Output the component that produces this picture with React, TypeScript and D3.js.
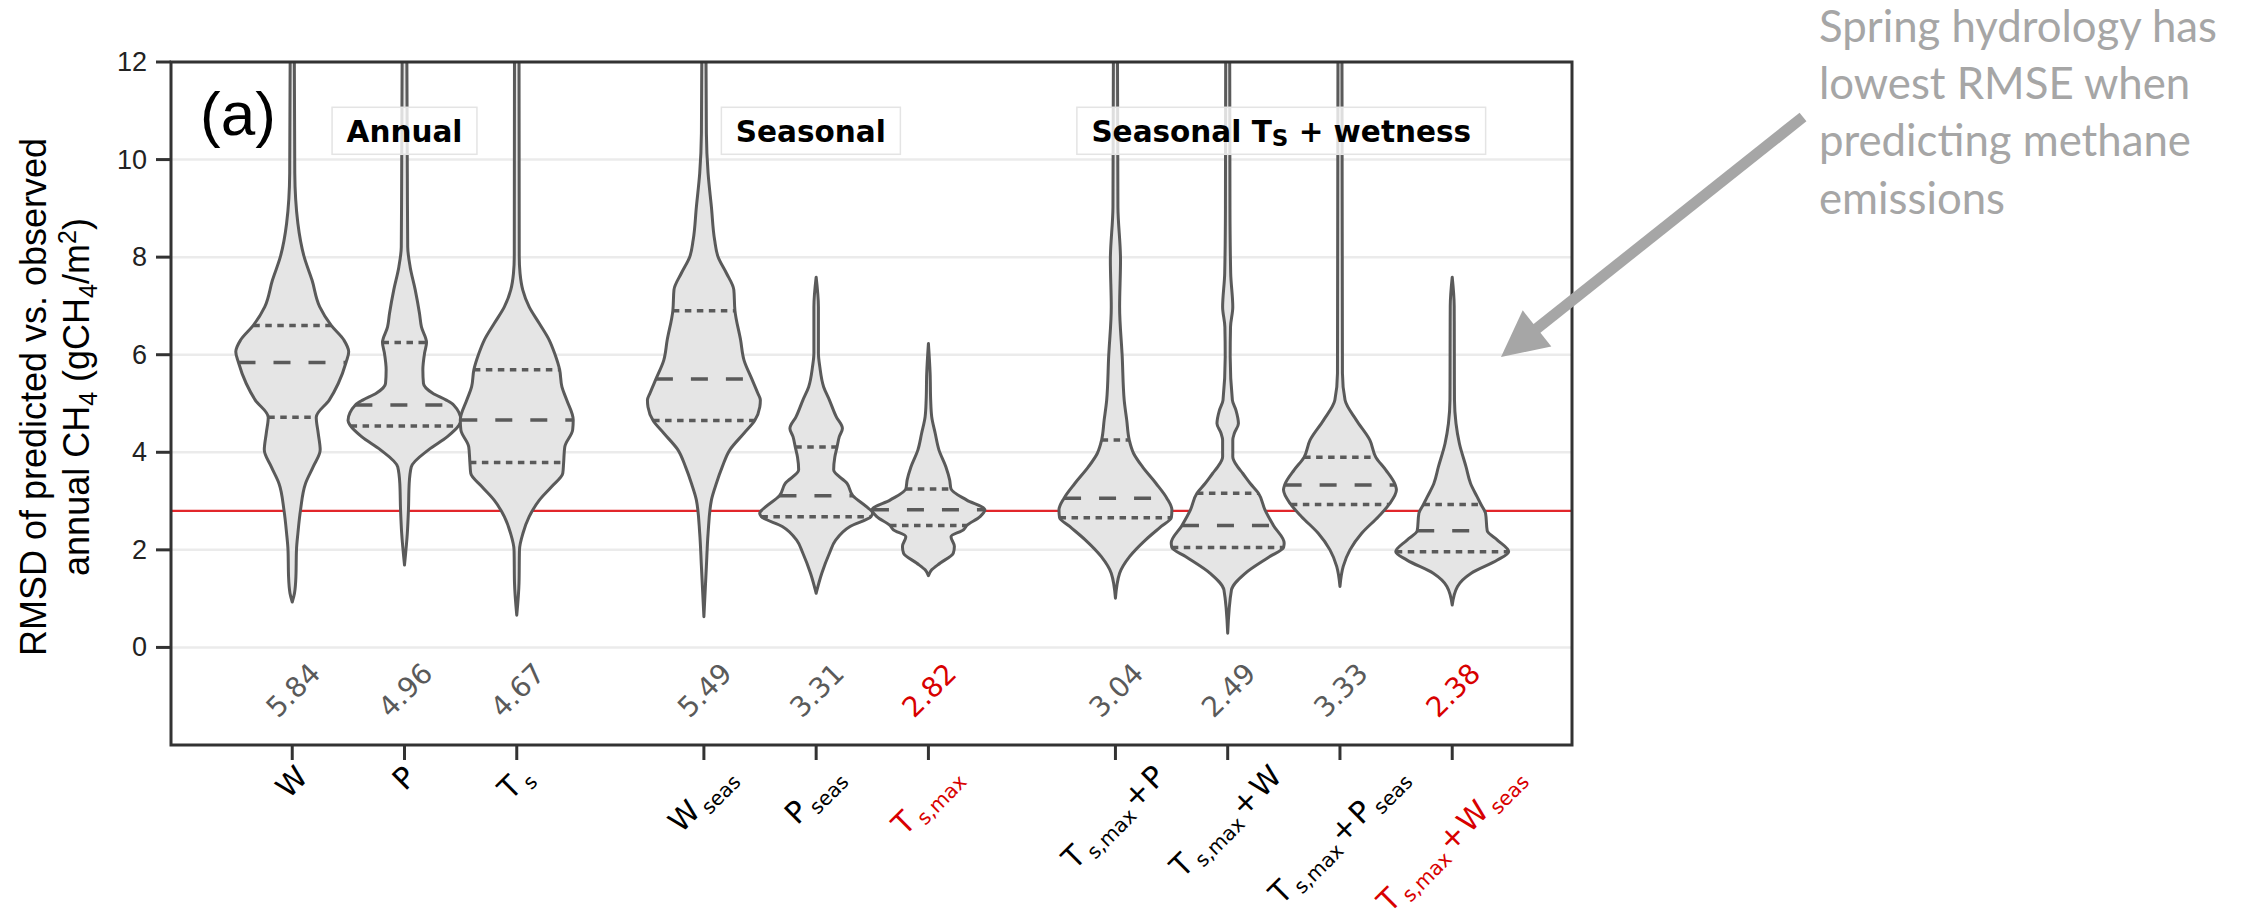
import React, { useLayoutEffect, useRef } from "react";
import * as d3 from "d3";

// ---------------- data ----------------
const categories = ["W", "P", "Ts", "Wseas", "Pseas", "Tsmax", "Tsmax+P", "Tsmax+W", "Tsmax+Pseas", "Tsmax+Wseas"];
const positions = [0, 1, 2, 3.667, 4.667, 5.667, 7.333, 8.333, 9.333, 10.333];
const valueLabels = ["5.84", "4.96", "4.67", "5.49", "3.31", "2.82", "3.04", "2.49", "3.33", "2.38"];
const highlighted = [false, false, false, false, false, true, false, false, false, true];

const q1Values = [4.72, 4.54, 3.79, 4.65, 2.68, 2.5, 2.66, 2.05, 2.93, 1.96];
const medianValues = [5.84, 4.97, 4.66, 5.5, 3.11, 2.82, 3.06, 2.5, 3.33, 2.39];
const q3Values = [6.6, 6.25, 5.69, 6.9, 4.11, 3.25, 4.25, 3.16, 3.9, 2.93];

// violin profiles: [RMSD value, relative half-width]
const violinW: [number, number][] = [[0.93, 0], [1.11, 0.04], [1.45, 0.065], [2.0, 0.075], [2.34, 0.1], [2.82, 0.147], [3.36, 0.235], [3.7, 0.37], [4.05, 0.495], [4.39, 0.46], [4.72, 0.425], [5.07, 0.655], [5.41, 0.815], [5.85, 0.955], [6.06, 1.0], [6.3, 0.915], [6.6, 0.69], [6.98, 0.487], [7.53, 0.35], [8.01, 0.21], [8.69, 0.1], [9.72, 0.045], [12.6, 0.035]];
const violinP: [number, number][] = [[1.69, 0], [2.34, 0.05], [2.82, 0.07], [3.36, 0.083], [3.7, 0.12], [4.05, 0.425], [4.32, 0.76], [4.54, 0.955], [4.65, 1.0], [4.97, 0.87], [5.07, 0.74], [5.21, 0.5], [5.41, 0.336], [5.69, 0.325], [6.03, 0.355], [6.25, 0.39], [6.57, 0.3], [6.85, 0.265], [7.33, 0.19], [7.8, 0.1], [8.21, 0.057], [9.72, 0.05], [12.6, 0.04]];
const violinTs: [number, number][] = [[0.66, 0], [1.32, 0.04], [2.0, 0.048], [2.34, 0.11], [2.68, 0.22], [3.02, 0.4], [3.3, 0.62], [3.57, 0.815], [3.79, 0.83], [4.11, 0.85], [4.46, 0.99], [4.66, 1.0], [5.07, 0.885], [5.34, 0.8], [5.69, 0.76], [6.03, 0.67], [6.3, 0.575], [6.64, 0.4], [6.98, 0.22], [7.33, 0.106], [7.67, 0.058], [8.01, 0.044], [12.6, 0.04]];
const violinWseas: [number, number][] = [[0.63, 0], [1.66, 0.044], [2.34, 0.074], [3.02, 0.133], [3.36, 0.22], [3.7, 0.325], [4.05, 0.46], [4.39, 0.71], [4.65, 0.9], [4.93, 0.99], [5.07, 1.0], [5.21, 0.955], [5.5, 0.85], [5.89, 0.71], [6.3, 0.65], [6.9, 0.55], [7.33, 0.53], [7.67, 0.4], [8.01, 0.25], [8.35, 0.19], [9.03, 0.133], [9.72, 0.074], [10.54, 0.044], [12.6, 0.035]];
const violinPseas: [number, number][] = [[1.11, 0], [1.52, 0.1], [1.93, 0.235], [2.2, 0.345], [2.48, 0.6], [2.68, 0.97], [2.75, 1.0], [2.89, 0.885], [3.11, 0.65], [3.36, 0.55], [3.64, 0.31], [3.9, 0.33], [4.11, 0.37], [4.32, 0.41], [4.49, 0.465], [4.73, 0.355], [5.07, 0.235], [5.34, 0.133], [5.75, 0.065], [6.03, 0.04], [6.98, 0.04], [7.59, 0]];
const violinTsmax: [number, number][] = [[1.47, 0], [1.59, 0.058], [1.73, 0.21], [1.93, 0.44], [2.07, 0.46], [2.27, 0.4], [2.41, 0.62], [2.5, 0.68], [2.68, 0.915], [2.82, 1.0], [3.02, 0.68], [3.25, 0.4], [3.43, 0.377], [3.7, 0.31], [4.05, 0.186], [4.39, 0.12], [4.73, 0.058], [5.07, 0.04], [5.62, 0.03], [6.23, 0]];
const violinTsmaxP: [number, number][] = [[1.01, 0], [1.52, 0.074], [1.86, 0.25], [2.2, 0.53], [2.48, 0.81], [2.66, 0.99], [2.82, 1.0], [3.06, 0.91], [3.36, 0.72], [3.7, 0.48], [3.98, 0.32], [4.25, 0.245], [4.66, 0.2], [5.07, 0.155], [5.96, 0.12], [6.98, 0.074], [7.94, 0.09], [9.03, 0.044], [12.6, 0.035]];
const violinTsmaxW: [number, number][] = [[0.29, 0], [1.18, 0.067], [1.52, 0.31], [1.86, 0.74], [2.05, 0.99], [2.14, 1.0], [2.5, 0.81], [2.82, 0.66], [3.16, 0.545], [3.36, 0.4], [3.57, 0.265], [3.7, 0.177], [3.91, 0.09], [4.25, 0.09], [4.39, 0.118], [4.59, 0.19], [4.86, 0.147], [5.07, 0.083], [5.96, 0.044], [6.57, 0.05], [6.98, 0.09], [7.67, 0.053], [9.0, 0.04], [12.6, 0.035]];
const violinTsmaxPseas: [number, number][] = [[1.25, 0], [1.66, 0.058], [2.0, 0.177], [2.34, 0.385], [2.68, 0.68], [2.93, 0.87], [3.23, 1.0], [3.33, 0.98], [3.64, 0.81], [3.9, 0.635], [4.25, 0.53], [4.66, 0.29], [5.07, 0.09], [5.62, 0.044], [12.6, 0.035]];
const violinTsmaxWseas: [number, number][] = [[0.87, 0], [1.25, 0.094], [1.52, 0.336], [1.79, 0.8], [1.96, 1.0], [2.2, 0.8], [2.39, 0.62], [2.75, 0.59], [2.93, 0.51], [3.09, 0.44], [3.36, 0.325], [3.7, 0.245], [4.18, 0.127], [4.59, 0.067], [5.07, 0.04], [7.0, 0.035], [7.59, 0]];

const violinProfiles = [violinW, violinP, violinTs, violinWseas, violinPseas, violinTsmax, violinTsmaxP, violinTsmaxW, violinTsmaxPseas, violinTsmaxWseas];

// tick label pieces: [text, kind] kind: n = normal, s = subscript, o = operator
const tickLabelParts: [string, string][][] = [
  [["W", "n"]],
  [["P", "n"]],
  [["T", "n"], ["s", "s"]],
  [["W", "n"], ["seas", "s"]],
  [["P", "n"], ["seas", "s"]],
  [["T", "n"], ["s,max", "s"]],
  [["T", "n"], ["s,max", "s"], ["+", "o"], ["P", "n"]],
  [["T", "n"], ["s,max", "s"], ["+", "o"], ["W", "n"]],
  [["T", "n"], ["s,max", "s"], ["+", "o"], ["P", "n"], ["seas", "s"]],
  [["T", "n"], ["s,max", "s"], ["+", "o"], ["W", "n"], ["seas", "s"]],
];

const yTicks = [0, 2, 4, 6, 8, 10, 12];
const referenceLine = 2.8;
const valueLabelLevel = -0.88;

const groupTitles = ["Annual", "Seasonal", "Seasonal T|S| + wetness"];
const groupCenters = [1.0, 4.62, 8.81];
const groupTitleLevel = 10.59;

const annotationLines = ["Spring hydrology has", "lowest RMSE when", "predicting methane", "emissions"];

// ---------------- layout ----------------
const W = 2252;
const H = 920;
const plotLeft = 171;
const plotRight = 1572;
const plotTop = 62;
const plotBottom = 745;
const halfWidth = 0.503;

const GRAY = "#5a5a5a";
const RED = "#d80000";
const MAIN_FS = 30;
const SUB_FS = 20;
const SUB_DY = 7;

export default function App() {
  const svgRef = useRef<SVGSVGElement>(null);

  const x = d3.scaleLinear().domain([-1.08, 11.4]).range([plotLeft, plotRight]);
  const y = d3.scaleLinear().domain([-2, 12]).range([plotBottom, plotTop]);

  useLayoutEffect(() => {
    const svg = d3.select(svgRef.current);
    // rotated labels: center rotated bbox on tick, top at given y
    svg.selectAll<SVGGElement, unknown>("g.rot").each(function () {
      const g = this;
      const text = g.querySelector("text") as SVGTextElement;
      const bb = text.getBBox();
      const c = Math.SQRT1_2;
      const pts = [
        [bb.x, bb.y + bb.height * 0.2],
        [bb.x + bb.width, bb.y + bb.height * 0.2],
        [bb.x, bb.y + bb.height * 0.85],
        [bb.x + bb.width, bb.y + bb.height * 0.85],
      ].map(([px, py]) => [c * (px + py), c * (py - px)]);
      const minX = d3.min(pts, (d) => d[0]) as number;
      const maxX = d3.max(pts, (d) => d[0]) as number;
      const minY = d3.min(pts, (d) => d[1]) as number;
      const cx = +(g.getAttribute("data-cx") as string);
      const top = +(g.getAttribute("data-top") as string);
      g.setAttribute("transform", `translate(${cx - (minX + maxX) / 2},${top - minY}) rotate(-45)`);
    });
    // group title boxes
    svg.selectAll<SVGGElement, unknown>("g.gtitle").each(function () {
      const g = this;
      const text = g.querySelector("text") as SVGTextElement;
      const rect = g.querySelector("rect") as SVGRectElement;
      const bb = text.getBBox();
      rect.setAttribute("x", String(bb.x - 14.5));
      rect.setAttribute("width", String(bb.width + 29));
    });
    // annotation font fit
    const ann = svg.select<SVGTextElement>("text.annot").node();
    if (ann) {
      const first = ann.querySelector("tspan") as SVGTSpanElement;
      const len = first.getComputedTextLength();
      const fs = 44 * (398 / len);
      ann.setAttribute("font-size", String(fs));
    }
  }, []);

  const areaFor = (pos: number) =>
    d3
      .area<[number, number]>()
      .curve(d3.curveMonotoneY)
      .y((d) => y(d[0]))
      .x0((d) => x(pos - halfWidth * d[1]))
      .x1((d) => x(pos + halfWidth * d[1]));

  const widthAt = (profile: [number, number][], v: number) => {
    const s = d3.scaleLinear().domain(profile.map((d) => d[0])).range(profile.map((d) => d[1])).clamp(true);
    return s(v);
  };

  const quartileLine = (i: number, v: number, dash: string, key: string) => {
    const hw = widthAt(violinProfiles[i], v) * halfWidth;
    return (
      <line
        key={key}
        x1={x(positions[i] - hw)}
        x2={x(positions[i] + hw)}
        y1={y(v)}
        y2={y(v)}
        stroke={GRAY}
        strokeWidth={3.5}
        strokeDasharray={dash}
      />
    );
  };

  const renderTick = (parts: [string, string][]) => {
    let prevSub = false;
    return parts.map(([t, kind], j) => {
      let dy = 0;
      if (kind === "s" && !prevSub) dy = SUB_DY;
      if (kind !== "s" && prevSub) dy = -SUB_DY;
      const dx = kind === "s" ? 4 : kind === "o" ? 3 : j === 0 ? 0 : 2;
      prevSub = kind === "s";
      return (
        <tspan key={j} dy={dy} dx={dx} fontSize={kind === "s" ? SUB_FS : MAIN_FS}>
          {t}
        </tspan>
      );
    });
  };

  const renderTitle = (s: string) => {
    const segs = s.split("|");
    return segs.map((seg, j) =>
      j % 2 === 1 ? (
        <tspan key={j} fontSize={23} dy={4}>
          {seg}
        </tspan>
      ) : (
        <tspan key={j} dy={j > 0 ? -4 : 0}>
          {seg}
        </tspan>
      )
    );
  };

  // arrow geometry
  const tail: [number, number] = [1803, 117];
  const tip: [number, number] = [1501, 357];
  const dxA = tip[0] - tail[0];
  const dyA = tip[1] - tail[1];
  const lenA = Math.hypot(dxA, dyA);
  const ux = dxA / lenA;
  const uy = dyA / lenA;
  const headLen = 46;
  const headHalf = 23;
  const base: [number, number] = [tip[0] - ux * headLen, tip[1] - uy * headLen];
  const nx = -uy;
  const ny = ux;

  return (
    <svg
      ref={svgRef}
      width={W}
      height={H}
      style={{ position: "absolute", left: 0, top: 0, background: "#fff" }}
    >
      <defs>
        <clipPath id="plotClip">
          <rect x={plotLeft} y={plotTop} width={plotRight - plotLeft} height={plotBottom - plotTop} />
        </clipPath>
      </defs>
      <rect x={0} y={0} width={W} height={H} fill="#fff" />

      {/* grid */}
      {yTicks.map((t) => (
        <line key={"g" + t} x1={plotLeft} x2={plotRight} y1={y(t)} y2={y(t)} stroke="#ebebeb" strokeWidth={2.5} />
      ))}

      {/* reference line */}
      <line x1={plotLeft} x2={plotRight} y1={y(referenceLine)} y2={y(referenceLine)} stroke="#e2262b" strokeWidth={2.2} />

      {/* violins */}
      <g clipPath="url(#plotClip)">
        {violinProfiles.map((prof, i) => (
          <path
            key={"v" + i}
            d={areaFor(positions[i])(prof) as string}
            fill="#e5e5e5"
            stroke={GRAY}
            strokeWidth={3}
            strokeLinejoin="round"
          />
        ))}
        {categories.map((c, i) => (
          <g key={"q" + c}>
            {quartileLine(i, q1Values[i], "6.5 5.5", "q1")}
            {quartileLine(i, medianValues[i], "17 18", "q2")}
            {quartileLine(i, q3Values[i], "6.5 5.5", "q3")}
          </g>
        ))}
      </g>

      {/* group titles */}
      {groupTitles.map((t, i) => (
        <g key={"gt" + i} className="gtitle">
          <rect
            x={x(groupCenters[i]) - 70}
            y={y(groupTitleLevel) - 23.5}
            width={140}
            height={47}
            fill="#fff"
            fillOpacity={0.8}
            stroke="#e4e4e4"
            strokeWidth={1.5}
          />
          <text
            x={x(groupCenters[i])}
            y={y(groupTitleLevel) + 11}
            textAnchor="middle"
            fontFamily="DejaVu Sans"
            fontWeight="bold"
            fontSize={29.5}
            fill="#000"
          >
            {renderTitle(t)}
          </text>
        </g>
      ))}

      {/* (a) */}
      <text x={200} y={135} fontFamily="Liberation Sans, Arial, sans-serif" fontSize={62} fill="#000">
        (a)
      </text>

      {/* value labels */}
      {valueLabels.map((v, i) => (
        <text
          key={"vl" + i}
          transform={`translate(${x(positions[i]) + 1},${y(valueLabelLevel)}) rotate(-45)`}
          textAnchor="middle"
          dominantBaseline="central"
          fontFamily="DejaVu Sans"
          fontSize={28}
          fill={highlighted[i] ? RED : "#5a5a5a"}
        >
          {v}
        </text>
      ))}

      {/* frame */}
      <rect
        x={plotLeft}
        y={plotTop}
        width={plotRight - plotLeft}
        height={plotBottom - plotTop}
        fill="none"
        stroke="#333"
        strokeWidth={3}
      />

      {/* y axis ticks */}
      {yTicks.map((t) => (
        <g key={"yt" + t}>
          <line x1={plotLeft - 15} x2={plotLeft} y1={y(t)} y2={y(t)} stroke="#333" strokeWidth={3} />
          <text
            x={plotLeft - 24}
            y={y(t)}
            textAnchor="end"
            dominantBaseline="central"
            fontFamily="Liberation Sans, Arial, sans-serif"
            fontSize={27}
            fill="#222"
          >
            {t}
          </text>
        </g>
      ))}

      {/* x axis ticks */}
      {positions.map((p, i) => (
        <line key={"xt" + i} x1={x(p)} x2={x(p)} y1={plotBottom} y2={plotBottom + 15} stroke="#333" strokeWidth={3} />
      ))}
      {tickLabelParts.map((parts, i) => (
        <g key={"xl" + i} className="rot" data-cx={x(positions[i])} data-top={764}>
          <text x={0} y={0} fontFamily="DejaVu Sans" fontSize={MAIN_FS} fill={highlighted[i] ? RED : "#000"}>
            {renderTick(parts)}
          </text>
        </g>
      ))}

      {/* y label */}
      <text
        transform="translate(46,397) rotate(-90)"
        textAnchor="middle"
        fontFamily="Liberation Sans, Arial, sans-serif"
        fontSize={36}
        fill="#000"
      >
        RMSD of predicted vs. observed
      </text>
      <text
        transform="translate(89,397) rotate(-90)"
        textAnchor="middle"
        fontFamily="Liberation Sans, Arial, sans-serif"
        fontSize={36}
        fill="#000"
      >
        <tspan>annual CH</tspan>
        <tspan fontSize={25} dy={8}>4</tspan>
        <tspan dy={-8}> (gCH</tspan>
        <tspan fontSize={25} dy={8}>4</tspan>
        <tspan dy={-8}>/m</tspan>
        <tspan fontSize={25} dy={-13}>2</tspan>
        <tspan dy={13}>)</tspan>
      </text>

      {/* annotation */}
      <text className="annot" x={1819} y={42} fontFamily="Lato, sans-serif" fontSize={44} fill="#a6a6a6">
        {annotationLines.map((l, i) => (
          <tspan key={i} x={1819} y={42 + i * 57.2}>
            {l}
          </tspan>
        ))}
      </text>

      {/* arrow */}
      <line x1={tail[0]} y1={tail[1]} x2={base[0] + ux * 2} y2={base[1] + uy * 2} stroke="#a6a6a6" strokeWidth={11} />
      <polygon
        points={[
          tip,
          [base[0] + nx * headHalf, base[1] + ny * headHalf],
          [base[0] - nx * headHalf, base[1] - ny * headHalf],
        ]
          .map((p) => p.join(","))
          .join(" ")}
        fill="#a6a6a6"
      />
    </svg>
  );
}
